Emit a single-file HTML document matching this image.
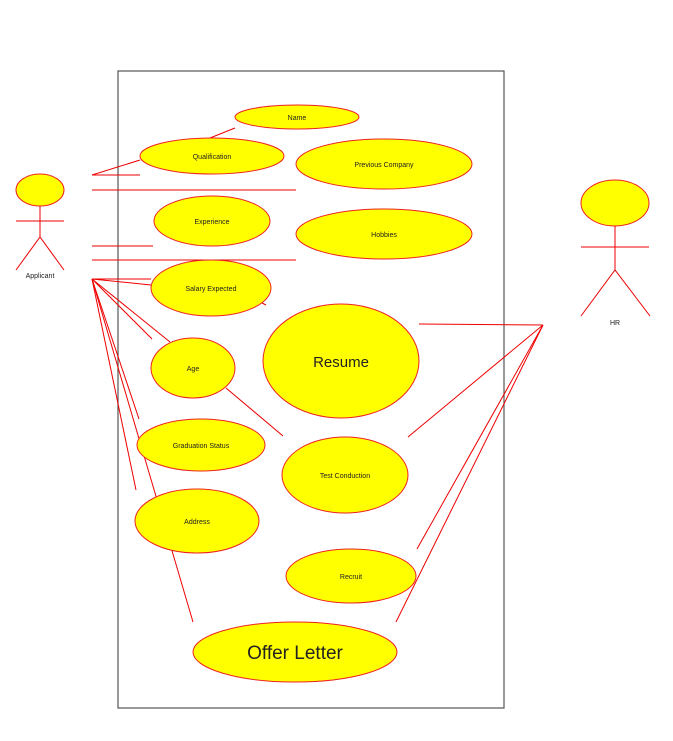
<!DOCTYPE html><html><head><style>body{margin:0;background:#fff}svg{display:block}text{font-family:"Liberation Sans",sans-serif;fill:#222;text-anchor:middle}</style></head><body>
<svg width="673" height="741" viewBox="0 0 673 741">
<rect x="118" y="71" width="386" height="637" fill="none" stroke="#555" stroke-width="1.2"/>
<g stroke="#e00" stroke-width="1" fill="none">
<line x1="92" y1="175" x2="140" y2="160"/><line x1="92" y1="175" x2="140" y2="175"/>
<line x1="92" y1="190" x2="296" y2="190"/><line x1="92" y1="246" x2="153" y2="246"/>
<line x1="92" y1="260" x2="296" y2="260"/><line x1="235" y1="128" x2="210" y2="138"/>
<line x1="92" y1="279" x2="151" y2="279"/><line x1="92" y1="279" x2="151" y2="285"/>
<line x1="92" y1="279" x2="152" y2="339"/><line x1="92" y1="279" x2="170" y2="342"/>
<line x1="92" y1="279" x2="139" y2="419"/><line x1="92" y1="279" x2="136" y2="490"/>
<line x1="92" y1="279" x2="193" y2="622"/><line x1="226" y1="388" x2="283" y2="436"/>
<line x1="262" y1="303" x2="266" y2="305"/>
<line x1="543" y1="325" x2="419" y2="324"/><line x1="543" y1="325" x2="408" y2="437"/>
<line x1="543" y1="325" x2="417" y2="549"/><line x1="543" y1="325" x2="396" y2="622"/>
</g>
<g fill="#ff0" stroke="#e22" stroke-width="1">
<ellipse cx="297" cy="117" rx="62" ry="12"/><ellipse cx="212" cy="156" rx="72" ry="18"/>
<ellipse cx="384" cy="164" rx="88" ry="25"/><ellipse cx="212" cy="221" rx="58" ry="25"/>
<ellipse cx="384" cy="234" rx="88" ry="25"/><ellipse cx="211" cy="288" rx="60" ry="28"/>
<ellipse cx="341" cy="361" rx="78" ry="57"/><ellipse cx="193" cy="368" rx="42" ry="30"/>
<ellipse cx="201" cy="445" rx="64" ry="26"/><ellipse cx="345" cy="475" rx="63" ry="38"/>
<ellipse cx="197" cy="521" rx="62" ry="32"/><ellipse cx="351" cy="576" rx="65" ry="27"/>
<ellipse cx="295" cy="652" rx="102" ry="30"/>
<ellipse cx="40" cy="190" rx="24" ry="16"/><ellipse cx="615" cy="203" rx="34" ry="23"/>
</g>
<g stroke="#e00" stroke-width="1" fill="none">
<line x1="40" y1="206" x2="40" y2="237"/><line x1="16" y1="221" x2="64" y2="221"/>
<polyline points="16,270 40,237 64,270"/>
<line x1="615" y1="226" x2="615" y2="270"/><line x1="581" y1="247" x2="649" y2="247"/>
<polyline points="581,316 615,270 650,316"/>
</g>
<g font-size="7">
<text x="297" y="120">Name</text><text x="212" y="159">Qualification</text>
<text x="384" y="167">Previous Company</text><text x="212" y="224">Experience</text>
<text x="384" y="237">Hobbies</text><text x="211" y="291">Salary Expected</text>
<text x="193" y="371">Age</text><text x="201" y="448">Graduation Status</text>
<text x="345" y="478">Test Conduction</text><text x="197" y="524">Address</text>
<text x="351" y="579">Recruit</text><text x="40" y="278">Applicant</text><text x="615" y="325">HR</text>
</g>
<text x="341" y="367" font-size="15">Resume</text>
<text x="295" y="659" font-size="19">Offer Letter</text>
</svg></body></html>
